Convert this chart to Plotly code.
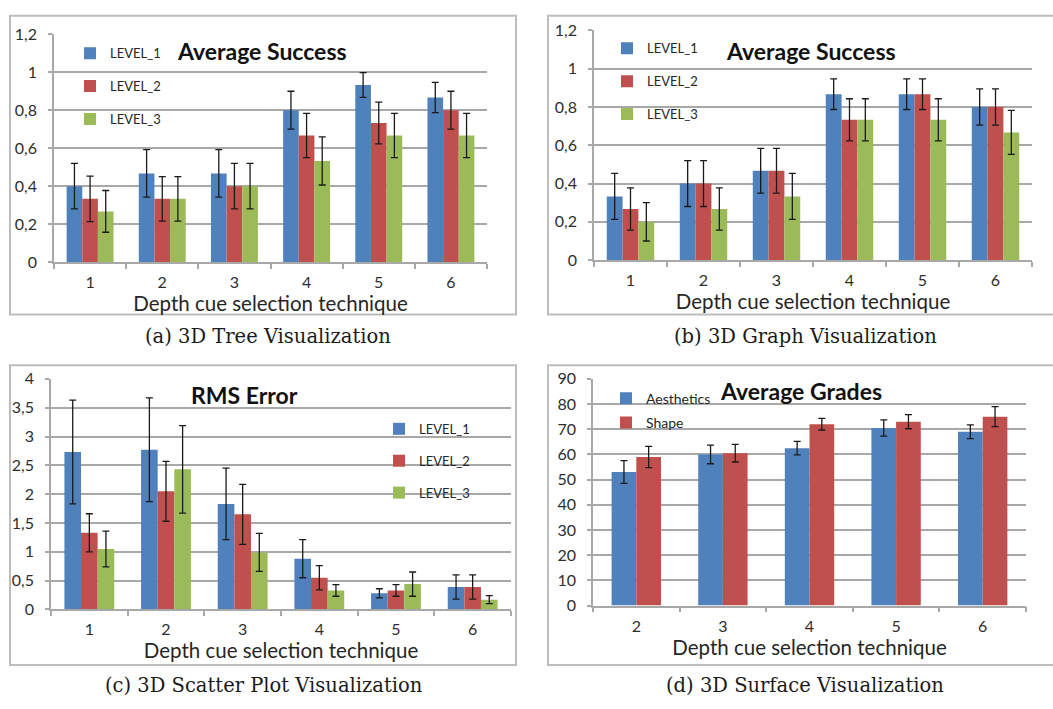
import plotly.graph_objects as go

# ---- data -------------------------------------------------------------
techniques = ["1", "2", "3", "4", "5", "6"]
surface_techniques = ["2", "3", "4", "5", "6"]
level_names = ["LEVEL_1", "LEVEL_2", "LEVEL_3"]
grade_names = ["Aesthetics", "Shape"]

# (a) 3D Tree Visualization - average success
tree_level1 = [0.400, 0.467, 0.467, 0.800, 0.933, 0.867]
tree_level2 = [0.333, 0.333, 0.400, 0.667, 0.733, 0.800]
tree_level3 = [0.267, 0.333, 0.400, 0.533, 0.667, 0.667]
tree_err1 = [0.12, 0.125, 0.125, 0.10, 0.065, 0.08]
tree_err2 = [0.12, 0.117, 0.12, 0.117, 0.11, 0.10]
tree_err3 = [0.11, 0.117, 0.12, 0.127, 0.117, 0.117]

# (b) 3D Graph Visualization - average success
graph_level1 = [0.333, 0.400, 0.467, 0.867, 0.867, 0.800]
graph_level2 = [0.267, 0.400, 0.467, 0.733, 0.867, 0.800]
graph_level3 = [0.200, 0.267, 0.333, 0.733, 0.733, 0.667]
graph_err1 = [0.12, 0.12, 0.117, 0.08, 0.08, 0.095]
graph_err2 = [0.11, 0.12, 0.117, 0.11, 0.08, 0.095]
graph_err3 = [0.10, 0.11, 0.12, 0.11, 0.11, 0.115]

# (c) 3D Scatter Plot Visualization - RMS error
scatter_level1 = [2.73, 2.77, 1.83, 0.88, 0.28, 0.39]
scatter_level2 = [1.33, 2.05, 1.65, 0.55, 0.33, 0.39]
scatter_level3 = [1.05, 2.43, 0.99, 0.33, 0.44, 0.17]
scatter_err1 = [0.90, 0.90, 0.62, 0.33, 0.08, 0.21]
scatter_err2 = [0.33, 0.52, 0.52, 0.21, 0.10, 0.21]
scatter_err3 = [0.31, 0.76, 0.33, 0.10, 0.21, 0.07]

# (d) 3D Surface Visualization - average grades
surface_aesthetics = [53.0, 60.0, 62.5, 70.5, 69.0]
surface_shape = [59.0, 60.5, 72.0, 73.0, 75.0]
surface_err_aesthetics = [4.5, 3.7, 2.7, 3.2, 2.7]
surface_err_shape = [4.2, 3.5, 2.3, 2.8, 4.0]

success_ticks = [0, 0.2, 0.4, 0.6, 0.8, 1.0, 1.2]
success_ticktext = ["0", "0,2", "0,4", "0,6", "0,8", "1", "1,2"]
rms_ticks = [0, 0.5, 1, 1.5, 2, 2.5, 3, 3.5, 4]
rms_ticktext = ["0", "0,5", "1", "1,5", "2", "2,5", "3", "3,5", "4"]
grade_ticks = [0, 10, 20, 30, 40, 50, 60, 70, 80, 90]
grade_ticktext = [str(v) for v in grade_ticks]

# ---- style ------------------------------------------------------------
W, H = 1053, 709
BLUE, RED, GREEN = "#4F81BD", "#C0504D", "#9BBB59"
GRID = "#A8A8A8"
TEXT = "#2E2E2E"
FONT = "Lato"


def px(x):
    return x / W


def py(y):
    return 1 - y / H


fig = go.Figure()


def add_bars(names, values, errors, colors, xref, yref, legend, cats,
             width=None, offsets=None):
    for i, (name, vals, errs, col) in enumerate(zip(names, values, errors, colors)):
        kw = {}
        if width is not None:
            kw = dict(width=width, offset=offsets[i])
        fig.add_trace(go.Bar(
            x=cats, y=vals, name=name,
            marker=dict(color=col, line=dict(width=0)),
            error_y=dict(type="data", array=errs, color="#1A1A1A",
                         thickness=1.3, width=3.5),
            xaxis=xref, yaxis=yref, legend=legend,
            legendgroup=f"{legend}_{name}",
            hoverinfo="x+y+name", **kw))


add_bars(level_names, [tree_level1, tree_level2, tree_level3],
         [tree_err1, tree_err2, tree_err3], [BLUE, RED, GREEN],
         "x", "y", "legend", techniques)
add_bars(level_names, [graph_level1, graph_level2, graph_level3],
         [graph_err1, graph_err2, graph_err3], [BLUE, RED, GREEN],
         "x2", "y2", "legend2", techniques)
add_bars(level_names, [scatter_level1, scatter_level2, scatter_level3],
         [scatter_err1, scatter_err2, scatter_err3], [BLUE, RED, GREEN],
         "x3", "y3", "legend3", techniques)
add_bars(grade_names, [surface_aesthetics, surface_shape],
         [surface_err_aesthetics, surface_err_shape], [BLUE, RED],
         "x4", "y4", "legend4", surface_techniques,
         width=0.285, offsets=[-0.285, 0.0])

# plot-area boxes (pixels): left, right, top, bottom
areas = {
    "": (54, 487, 25, 259),
    "2": (594, 1032, 21, 257),
    "3": (51, 511, 379, 616),
    "4": (593, 1026, 379, 612),
}
y_setup = {
    "": ([0, 1.2], success_ticks, success_ticktext),
    "2": ([0, 1.2], success_ticks, success_ticktext),
    "3": ([0, 4], rms_ticks, rms_ticktext),
    "4": ([0, 90], grade_ticks, grade_ticktext),
}

layout = dict(
    width=W, height=H,
    margin=dict(l=0, r=0, t=0, b=0),
    paper_bgcolor="white", plot_bgcolor="white",
    barmode="group", bargap=0.35, bargroupgap=0.0,
    font=dict(family=FONT, color=TEXT),
    showlegend=True,
)

for k, (l, r, t, b) in areas.items():
    rng, tv, tt = y_setup[k]
    layout["xaxis" + k] = dict(
        domain=[px(l), px(r)], anchor="y" + k, type="category",
        showline=True, linecolor=GRID, linewidth=1.5,
        ticks="outside", tickson="boundaries", ticklen=5, tickcolor=GRID,
        tickwidth=1.5, showgrid=False, zeroline=False,
        tickfont=dict(size=16, color=TEXT, family=FONT),
        ticklabelstandoff=5,
        title=dict(text="Depth cue selection technique",
                   font=dict(size=20.5, color="#262626", family=FONT),
                   standoff=0),
        fixedrange=True,
    )
    layout["yaxis" + k] = dict(
        domain=[py(b), py(t)], anchor="x" + k, range=rng,
        tickvals=tv, ticktext=tt,
        showline=True, linecolor=GRID, linewidth=1.5,
        ticks="outside", ticklen=4, tickcolor=GRID, tickwidth=1.5,
        showgrid=True, gridcolor=GRID, gridwidth=1.5, zeroline=False,
        tickfont=dict(size=16, color=TEXT, family=FONT),
        ticklabelstandoff=8,
        fixedrange=True,
    )

# legends placed inside each plot area
def legend_at(left, top, gap, size=13):
    return dict(
        x=px(left), y=py(top), xanchor="left", yanchor="top",
        bgcolor="rgba(0,0,0,0)", borderwidth=0,
        font=dict(size=size, color="#262626", family=FONT),
        traceorder="grouped", tracegroupgap=gap,
        itemclick=False, itemdoubleclick=False,
    )

layout["legend"] = legend_at(70, 29, 13)
layout["legend2"] = legend_at(607, 24, 13)
layout["legend3"] = legend_at(379, 415, 12)
layout["legend4"] = legend_at(606, 383, 3, size=14)

# chart frames and figure captions
frames = [(10, 516, 6, 313), (548, 1056, 6, 313),
          (10, 516, 365, 673), (548, 1056, 365, 673)]
layout["shapes"] = [
    dict(type="rect", xref="paper", yref="paper",
         x0=px(l), x1=px(r), y0=py(b), y1=py(t),
         line=dict(color="#BDBDBD", width=2), layer="below")
    for l, r, t, b in frames
]

chart_titles = [("Average Success", 262, 42), ("Average Success", 811, 42),
                ("RMS Error", 244, 396), ("Average Grades", 801, 392)]
captions = [("(a) 3D Tree Visualization", 268, 336),
            ("(b) 3D Graph Visualization", 805, 336),
            ("(c) 3D Scatter Plot Visualization", 264, 694),
            ("(d) 3D Surface Visualization", 805, 694)]

annotations = []
for text, x, y in chart_titles:
    annotations.append(dict(
        text=f"<b>{text}</b>", x=px(x), y=py(y), xref="paper", yref="paper",
        xanchor="center", yanchor="middle", showarrow=False,
        font=dict(size=23, color="#111111", family=FONT)))
for text, x, y in captions:
    annotations.append(dict(
        text=text, x=px(x), y=py(y), xref="paper", yref="paper",
        xanchor="center", yanchor="middle", showarrow=False,
        font=dict(size=19.5, color="#1A1A1A", family="DejaVu Serif")))
layout["annotations"] = annotations

fig.update_layout(**layout)
fig.write_html("out.html", config={"displayModeBar": False})
